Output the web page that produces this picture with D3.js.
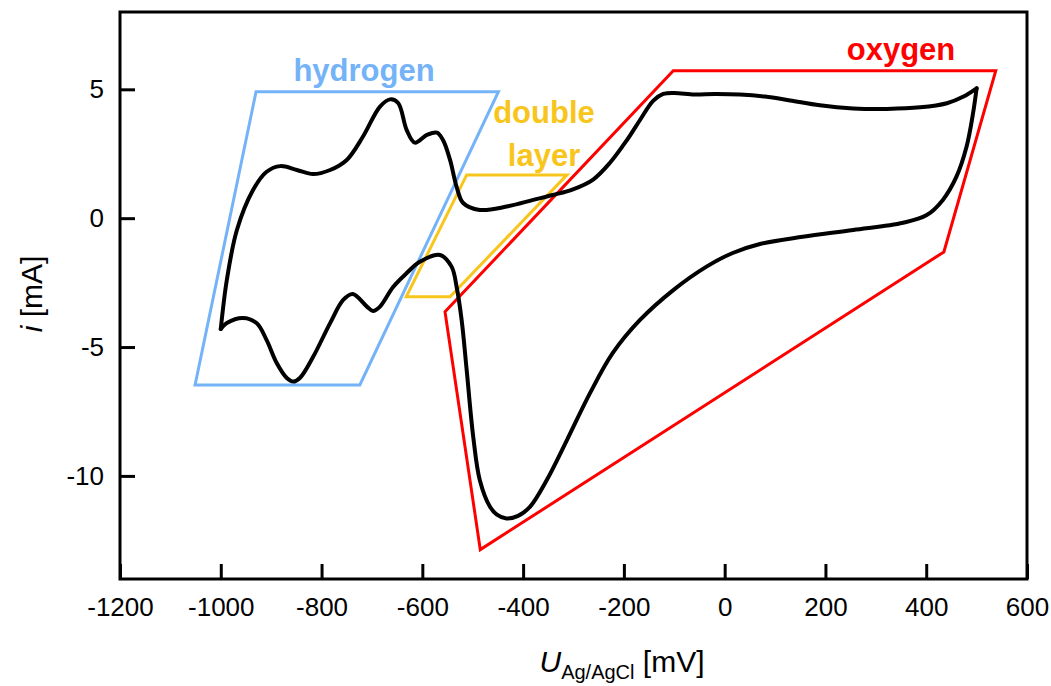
<!DOCTYPE html>
<html>
<head>
<meta charset="utf-8">
<script src="https://cdn.jsdelivr.net/npm/d3@7"></script>
<style>
  body { margin: 0; background: #fff; }
  svg { display: block; font-family: "Liberation Sans", Arial, sans-serif; }
</style>
</head>
<body>
<svg id="chart" width="1051" height="686"></svg>
<script>
'use strict';

// anodic scan, -1000 mV -> 500 mV
var anodicU = [-1000, -988, -968, -936, -909, -882, -849, -817, -783, -750, -718, -684, -664, -648, -631, -615,
    -591, -571, -559, -545, -532, -519, -486, -433, -380, -341, -301, -261, -228, -194, -168, -142, -122, -100,
    -60, -20, 30, 80, 130, 189, 255, 322, 388, 441, 473, 500];
var anodicI = [-4.3, -2.4, -0.46, 1.09, 1.8, 2.02, 1.87, 1.71, 1.87, 2.26, 3.16, 4.33, 4.61, 4.47, 3.42, 2.93,
    3.23, 3.32, 3.03, 2.26, 1.22, 0.59, 0.32, 0.45, 0.71, 0.9, 1.12, 1.5, 2.14, 3.03, 3.81, 4.55, 4.82, 4.86,
    4.8, 4.82, 4.8, 4.72, 4.57, 4.38, 4.26, 4.24, 4.3, 4.46, 4.71, 5.04];

// cathodic scan, 500 mV -> -1000 mV
var cathodicU = [500, 493, 480, 460, 433, 401, 354, 255, 155, 70, 16, -36, -102, -168, -222, -267, -313, -353,
    -386, -410, -433, -452, -466, -486, -499, -512, -522, -532, -542, -565, -605, -631, -658, -684, -698, -710,
    -738, -757, -783, -817, -843, -856, -869, -889, -909, -929, -956, -988, -1000];
var cathodicI = [5.04, 4.08, 2.77, 1.61, 0.71, 0.12, -0.18, -0.46, -0.72, -1.0, -1.35, -1.88, -2.79, -3.95, -5.23,
    -6.78, -8.61, -10.16, -11.19, -11.55, -11.65, -11.5, -11.19, -10.16, -8.48, -5.89, -3.95, -2.66, -1.88, -1.43,
    -1.69, -2.13, -2.67, -3.43, -3.6, -3.43, -2.94, -3.17, -4.07, -5.39, -6.2, -6.34, -6.2, -5.62, -4.73, -4.07,
    -3.87, -4.07, -4.3];

// region outlines [mV, mA]
var hydrogenBox = [[-930, 4.91], [-449, 4.91], [-724, -6.47], [-1051, -6.47]];
var doubleLayerBox = [[-512, 1.68], [-313, 1.68], [-545, -3.05], [-632, -3.05]];
var oxygenBox = [[-102, 5.72], [538, 5.72], [435, -1.31], [-485, -12.86], [-555, -3.63]];

var xTicks = [-1200, -1000, -800, -600, -400, -200, 0, 200, 400, 600];
var yTicks = [-10, -5, 0, 5];

var margin = {left: 120, top: 12, right: 1027, bottom: 579};

var svg = d3.select('#chart');

var x = d3.scaleLinear().domain([-1200, 600]).range([margin.left, margin.right]);
var y = d3.scaleLinear().domain([-14, 8]).range([margin.bottom, margin.top]);

var line = d3.line()
    .x(function (d) { return x(d[0]); })
    .y(function (d) { return y(d[1]); })
    .curve(d3.curveCatmullRom.alpha(0.5));

var outline = d3.line()
    .x(function (d) { return x(d[0]); })
    .y(function (d) { return y(d[1]); })
    .curve(d3.curveLinearClosed);

var zip = function (us, is) {
    return us.map(function (u, k) { return [u, is[k]]; });
};

var plain = function (d) { return String(d); };

// axes
var xAxis = d3.axisBottom(x).tickValues(xTicks).tickFormat(plain)
    .tickSizeInner(-15).tickSizeOuter(0).tickPadding(19);
var yAxis = d3.axisLeft(y).tickValues(yTicks).tickFormat(plain)
    .tickSizeInner(-15).tickSizeOuter(0).tickPadding(16);

var gx = svg.append('g').attr('transform', 'translate(0,' + margin.bottom + ')').call(xAxis);
var gy = svg.append('g').attr('transform', 'translate(' + margin.left + ',0)').call(yAxis);

[gx, gy].forEach(function (g) {
    g.select('.domain').remove();
    g.selectAll('line').attr('stroke', '#000').attr('stroke-width', 3);
    g.selectAll('text').attr('fill', '#000').style('font-size', '26px')
        .style('font-family', '"Liberation Sans", Arial, sans-serif');
});

svg.append('rect')
    .attr('x', margin.left).attr('y', margin.top)
    .attr('width', margin.right - margin.left).attr('height', margin.bottom - margin.top)
    .attr('fill', 'none').attr('stroke', '#000').attr('stroke-width', 3);

// region outlines
var boxes = [
    {pts: hydrogenBox, color: '#74b3f8', width: 3},
    {pts: doubleLayerBox, color: '#f8c51c', width: 3},
    {pts: oxygenBox, color: '#ff0000', width: 3}
];
boxes.forEach(function (b) {
    svg.append('path').attr('d', outline(b.pts))
        .attr('fill', 'none').attr('stroke', b.color).attr('stroke-width', b.width)
        .attr('stroke-linejoin', 'miter');
});

// voltammogram
[zip(anodicU, anodicI), zip(cathodicU, cathodicI)].forEach(function (branch) {
    svg.append('path').attr('d', line(branch))
        .attr('fill', 'none').attr('stroke', '#000').attr('stroke-width', 4)
        .attr('stroke-linejoin', 'round').attr('stroke-linecap', 'round');
});

// region labels
var labels = [
    {text: 'hydrogen', x: 364, y: 81, color: '#74b3f8'},
    {text: 'double', x: 544, y: 123, color: '#f8c51c'},
    {text: 'layer', x: 544, y: 166, color: '#f8c51c'},
    {text: 'oxygen', x: 901, y: 60, color: '#ff0000'}
];
svg.selectAll('text.region').data(labels).enter().append('text')
    .attr('class', 'region')
    .attr('x', function (d) { return d.x; })
    .attr('y', function (d) { return d.y; })
    .attr('text-anchor', 'middle')
    .attr('fill', function (d) { return d.color; })
    .style('font-size', '31px').style('font-weight', 'bold')
    .text(function (d) { return d.text; });

// axis titles
var xt = svg.append('text').attr('x', 622).attr('y', 672).attr('text-anchor', 'middle')
    .style('font-size', '30px').attr('fill', '#000');
xt.append('tspan').style('font-style', 'italic').text('U');
xt.append('tspan').attr('dy', 7).style('font-size', '20px').text('Ag/AgCl');
xt.append('tspan').attr('dy', -7).text(' [mV]');

var yt = svg.append('text').attr('transform', 'translate(42,294) rotate(-90)').attr('text-anchor', 'middle')
    .style('font-size', '30px').attr('fill', '#000');
yt.append('tspan').style('font-style', 'italic').text('i');
yt.append('tspan').text(' [mA]');
</script>
</body>
</html>
